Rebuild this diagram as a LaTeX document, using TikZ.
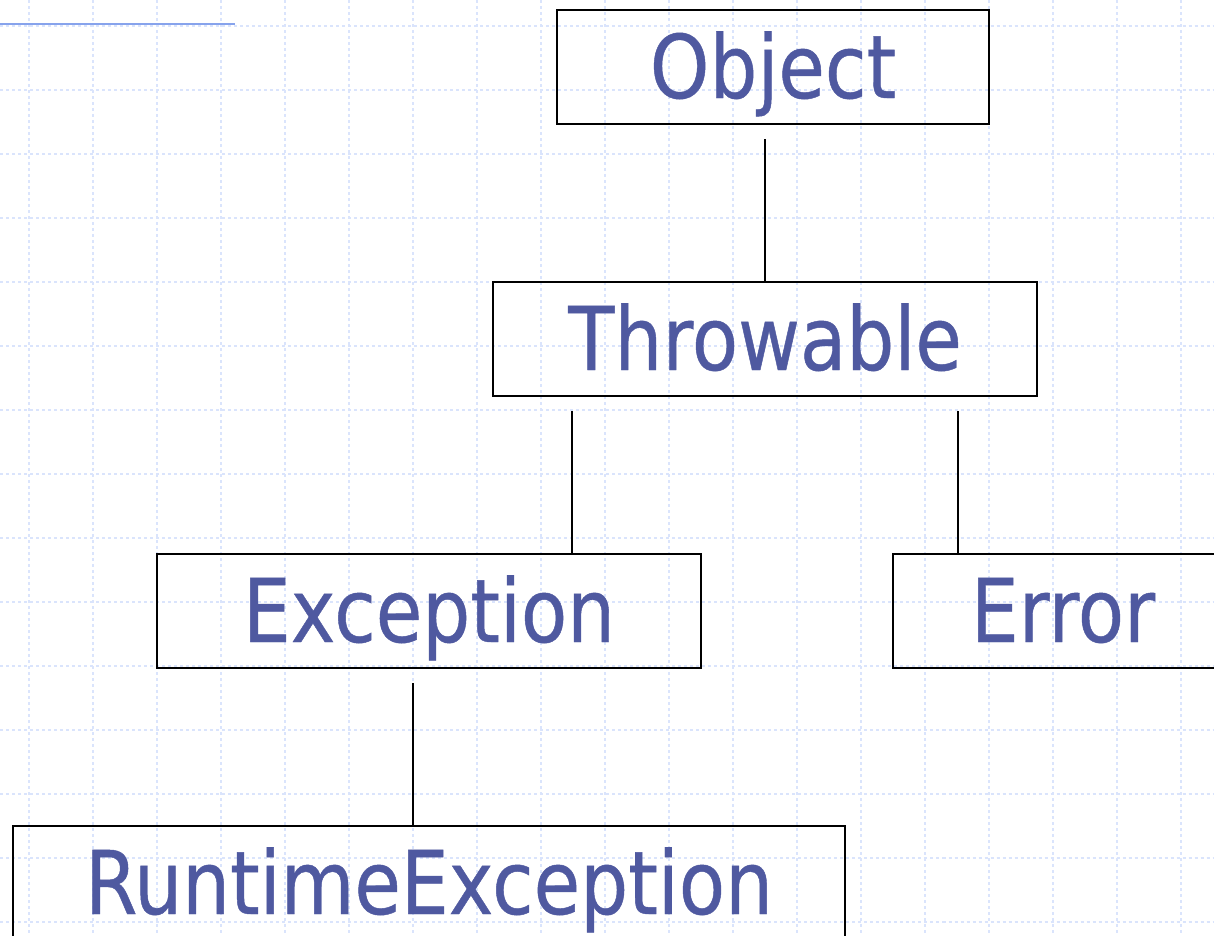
\documentclass[tikz,border=0pt]{standalone}
\usepackage{fontspec}
\setmainfont[FakeStretch=0.86, FakeBold=0.5]{DejaVu Sans}
\usepackage{tikz}
\usetikzlibrary{positioning, calc}
\usepackage{xcolor}
\definecolor{classtext}{RGB}{79,89,160}
\definecolor{gridblue}{RGB}{218,228,252}
\definecolor{ruleblue}{RGB}{135,163,236}

\tikzset{
  classbox/.style={draw, line width=0.6pt, inner sep=0pt, minimum height=1.14cm,
    text height=0.82cm, text depth=0.2cm,
    text=classtext, font=\fontsize{25}{30}\selectfont},
  link/.style={line width=0.6pt, shorten <=0.14cm},
  gridline/.style={gridblue, line width=0.45pt, dash pattern=on 0.03cm off 0.03cm}
}

\begin{document}
\begin{tikzpicture}[x=0.01cm, y=-0.01cm]
\clip (0,0) rectangle (1214,936);
\fill[white] (0,0) rectangle (1214,936);

% slide background
\foreach \gx in {29,93,...,1214} \draw[gridline] (\gx,0) -- (\gx,936);
\foreach \gy in {26,90,...,936} \draw[gridline] (0,\gy) -- (1214,\gy);
\draw[ruleblue, line width=0.6pt] (0,24) -- (235,24);

% class hierarchy
\node[classbox, minimum width=4.32cm] (obj) at (773,67) {Object};
\node[classbox, minimum width=5.44cm] (throwable) at (765,339) {Throwable};
\node[classbox, minimum width=5.44cm] (exc) at (429,611) {Exception};
\node[classbox, minimum width=3.40cm] (err) at (1063,611) {Error};
\node[classbox, minimum width=8.32cm] (rte) at (429,883) {RuntimeException};

\draw[link] (throwable.north |- obj.south) -- (throwable.north);
\draw[link] ([xshift=0.8cm]throwable.south west) -- ([xshift=0.8cm]throwable.south west |- exc.north);
\draw[link] ([xshift=-0.8cm]throwable.south east) -- ([xshift=-0.8cm]throwable.south east |- err.north);
\draw[link] ([xshift=-0.16cm]exc.south) -- ([xshift=-0.16cm]exc.south |- rte.north);
\end{tikzpicture}
\end{document}
